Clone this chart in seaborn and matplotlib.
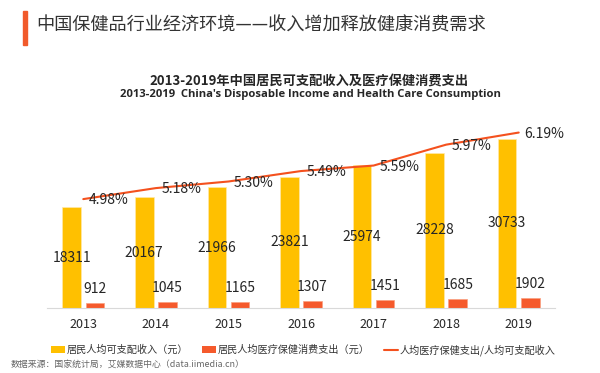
import matplotlib
matplotlib.use("Agg")
import matplotlib.pyplot as plt
from matplotlib.patches import Patch, Rectangle
from matplotlib.lines import Line2D
import pandas as pd
import seaborn as sns

# ── Données ─────────────────────────────────────────────────────────────
years = ["2013", "2014", "2015", "2016", "2017", "2018", "2019"]
income = [18311, 20167, 21966, 23821, 25974, 28228, 30733]      # 居民人均可支配收入（元）
health = [912, 1045, 1165, 1307, 1451, 1685, 1902]              # 居民人均医疗保健消费支出（元）
ratio = [4.98, 5.18, 5.30, 5.49, 5.59, 5.97, 6.19]              # 比例 (%)

s_income = "居民人均可支配收入（元）"
s_health = "居民人均医疗保健消费支出（元）"
s_ratio = "人均医疗保健支出/人均可支配收入"

YELLOW = "#FFC000"
RED = "#F55A2C"
LINE = "#F4511E"
TXT = "#262626"

sns.set_theme(style="white")
plt.rcParams["font.family"] = ["Noto Sans CJK SC", "DejaVu Sans"]

df = pd.DataFrame({
    "year": years * 2,
    "series": [s_income] * len(years) + [s_health] * len(years),
    "value": income + health,
})

W, H = 600, 373
fig = plt.figure(figsize=(W / 100, H / 100), dpi=100)
fig.patch.set_facecolor("white")

# zone du graphe (pixels : x 47-555, y 110-308)
ax = fig.add_axes([47 / W, 1 - 308 / H, (555 - 47) / W, (308 - 110) / H])

sns.barplot(
    data=df, x="year", y="value", hue="series",
    palette={s_income: YELLOW, s_health: RED}, saturation=1,
    width=0.64, gap=0.2, legend=False, ax=ax,
    edgecolor="#FFE9A8", linewidth=0.5,
)
for p in ax.containers[1]:
    p.set_edgecolor("#F9A080")
ax.set_ylim(0, 36000)
ax.set_xlim(-0.5, 6.5)
ax.set_xlabel("")
ax.set_ylabel("")
ax.set_yticks([])
for side in ["top", "left", "right"]:
    ax.spines[side].set_visible(False)
ax.spines["bottom"].set_color("#D9D9D9")
ax.spines["bottom"].set_linewidth(0.8)
ax.tick_params(axis="x", length=0, pad=7, labelsize=9, labelcolor=TXT)

# étiquettes des barres
ax.bar_label(ax.containers[0], fmt="{:.0f}", label_type="center", fontsize=10, color=TXT)
ax.bar_label(ax.containers[1], fmt="{:.0f}", padding=5, fontsize=10, color=TXT)

# courbe du ratio sur un axe secondaire
ax2 = ax.twinx()
sns.lineplot(x=list(range(len(years))), y=ratio, color=LINE, linewidth=1.5, ax=ax2)
ax2.set_ylim(3.0, 6.6)
ax2.set_yticks([])
ax2.set_ylabel("")
for side in ["top", "left", "right", "bottom"]:
    ax2.spines[side].set_visible(False)
for i, r in enumerate(ratio):
    ax2.annotate(f"{r:.2f}%", (i, r), xytext=(4, -1), textcoords="offset points",
                 ha="left", va="center", fontsize=10, color=TXT)

# titres
fig.patches.append(Rectangle((22.7 / W, 1 - 45 / H), 4.6 / W, 34.3 / H,
                             transform=fig.transFigure, color="#F15A2B", zorder=5))
fig.text(36 / W, 1 - 26 / H, "中国保健品行业经济环境——收入增加释放健康消费需求",
         fontsize=13.1, color="#333333", ha="left", va="center")
fig.text(309 / W, 1 - 82 / H, "2013-2019年中国居民可支配收入及医疗保健消费支出",
         fontsize=9.5, fontweight="bold", color=TXT, ha="center", va="center")
fig.text(310 / W, 1 - 95 / H, "2013-2019  China's Disposable Income and Health Care Consumption",
         fontsize=8.1, fontweight="bold", color=TXT, ha="center", va="center",
         family=["Open Sans", "DejaVu Sans"])

# légende
handles = [
    Patch(facecolor=YELLOW, edgecolor="none", label=s_income),
    Patch(facecolor=RED, edgecolor="none", label=s_health),
    Line2D([0], [0], color=LINE, linewidth=1.5, label=s_ratio),
]
fig.legend(handles=handles, loc="center", bbox_to_anchor=(303 / W, 1 - 350 / H), ncol=3,
           frameon=False, fontsize=7.3, handlelength=1.4, handleheight=0.7,
           handletextpad=0.15, columnspacing=1.4, labelcolor="#333333")

fig.text(11 / W, 1 - 364 / H, "数据来源：国家统计局，艾媒数据中心（data.iimedia.cn）",
         fontsize=6.4, color="#666666", ha="left", va="center")

fig.savefig("out.png", dpi=100)
